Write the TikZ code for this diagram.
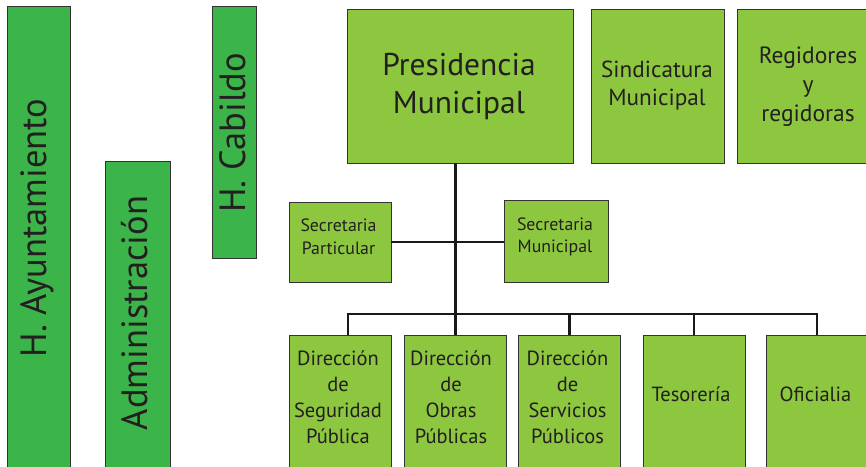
\documentclass[tikz,border=0pt]{standalone}
\usepackage{fontspec}
\setmainfont{PT Sans}
\definecolor{dgreen}{HTML}{3BB54A}
\definecolor{lgreen}{HTML}{8DC63F}
\definecolor{edge}{HTML}{333333}
\definecolor{ink}{HTML}{231F20}
\begin{document}
\begin{tikzpicture}[x=1pt,y=-1pt,
  boxd/.style={draw=edge,line width=1pt,fill=dgreen,inner sep=0pt,outer sep=0pt},
  boxl/.style={draw=edge,line width=1pt,fill=lgreen,inner sep=0pt,outer sep=0pt},
  lbl/.style={text=ink,align=center,inner sep=0pt},
  conn/.style={draw=black!90,line width=2.6pt}]
\useasboundingbox (0,0) rectangle (866,466);
\clip (0,0) rectangle (866,466);
% left vertical boxes
\node[boxd,minimum width=63pt,minimum height=464pt] (ayu) at (38.5,238) {};
\node[boxd,minimum width=65pt,minimum height=309pt] (adm) at (137.5,315.5) {};
\node[boxd,minimum width=44pt,minimum height=252pt] (cab) at (234,132) {};
\node[lbl,rotate=90,font=\fontsize{36.5}{40}\selectfont] (ayut) at (37,228) {H. Ayuntamiento};
\node[lbl,rotate=90,font=\fontsize{36.5}{40}\selectfont] (admt) at (135,313) {Administración};
\node[lbl,rotate=90,font=\fontsize{36.5}{40}\selectfont] (cabt) at (233,133) {H. Cabildo};
% top row
\node[boxl,minimum width=226pt,minimum height=154pt] (pres) at (460,86) {};
\node[boxl,minimum width=133pt,minimum height=154pt] (sind) at (657.5,86) {};
\node[boxl,minimum width=133pt,minimum height=154pt] (reg) at (803.5,86) {};
\node[lbl,font=\fontsize{31.5}{38}\selectfont] (prest) at (459,86) {Presidencia\\Municipal};
\node[lbl,font=\fontsize{23.2}{28}\selectfont] (sindt) at (657,86) {Sindicatura\\Municipal};
\node[lbl,font=\fontsize{23.5}{29}\selectfont] (regt) at (808,87) {Regidores\\y\\regidoras};
% secretarias
\node[boxl,minimum width=102pt,minimum height=80pt] (spa) at (340,242) {};
\node[boxl,minimum width=104pt,minimum height=82pt] (smu) at (556,241) {};
\node[lbl,font=\fontsize{17.8}{22.6}\selectfont] (spat) at (338.5,237) {Secretaria\\Particular};
\node[lbl,font=\fontsize{17.8}{22.6}\selectfont] (smut) at (555,237) {Secretaria\\Municipal};
% bottom row
\node[boxl,minimum width=102pt,minimum height=135pt] (d1) at (340,402.5) {};
\node[boxl,minimum width=102pt,minimum height=135pt] (d2) at (455.5,402.5) {};
\node[boxl,minimum width=101.5pt,minimum height=135pt] (d3) at (569.25,402.5) {};
\node[boxl,minimum width=102pt,minimum height=135pt] (d4) at (694,402.5) {};
\node[boxl,minimum width=102pt,minimum height=135pt] (d5) at (817,402.5) {};
\node[lbl,font=\fontsize{20.5}{26}\selectfont] (d1t) at (338,397) {Dirección\\de\\Seguridad\\Pública};
\node[lbl,font=\fontsize{20.5}{26}\selectfont] (d2t) at (451,397) {Dirección\\de\\Obras\\Públicas};
\node[lbl,font=\fontsize{20.5}{26}\selectfont] (d3t) at (567.5,397) {Dirección\\de\\Servicios\\Públicos};
\node[lbl,font=\fontsize{20.5}{26}\selectfont] (d4t) at (691,394) {Tesorería};
\node[lbl,font=\fontsize{20.5}{26}\selectfont] (d5t) at (815.5,394) {Oficialia};
% connectors
\coordinate (bl) at (348,314);
\coordinate (br) at (d5.north |- bl);
\draw[conn] (pres.south -| d2.north) -- (d2.north);
\draw[conn] (spa.east) -- (spa.east -| smu.west);
\draw[conn] ([xshift=-1.3pt]bl) -- ([xshift=1.3pt]br);
\draw[conn] (bl) -- (bl |- d1.north);
\draw[conn] (d3.north |- bl) -- (d3.north);
\draw[conn] (d4.north |- bl) -- (d4.north);
\draw[conn] (br) -- (d5.north);
\end{tikzpicture}
\end{document}
